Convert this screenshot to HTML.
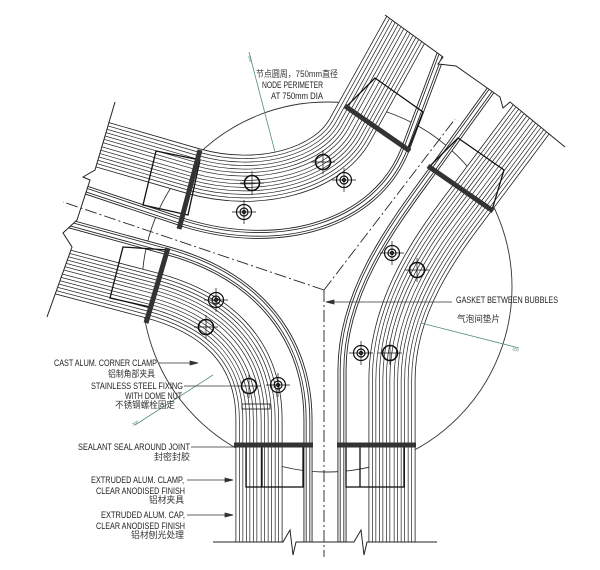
<!DOCTYPE html>
<html><head><meta charset="utf-8">
<style>
html,body{margin:0;padding:0;background:#fff;}
svg{display:block;}
text{font-family:"Liberation Sans","Noto Sans CJK SC",sans-serif;fill:#222;}
.zh{font-family:"Liberation Sans","Noto Sans CJK SC",sans-serif;fill:#333;}
</style></head><body>
<svg width="600" height="570" viewBox="0 0 600 570" xmlns="http://www.w3.org/2000/svg">
<defs>
<path id="dA" d="M55 131 L193 171 C260 190 328 170 350 130 L420 4" fill="none"/>
<path id="eA" d="M50 178 L185 223 C280 252 375 225 405 150 L462 -2" fill="none"/>
<path id="dC" d="M25 262 L150 295 C215 312 259 350 259 420 L259 542" fill="none"/>
<path id="eC" d="M30 213 L165 250 C260 275 308 340 308 420 L308 542" fill="none"/>
<path id="dB" d="M593 37 L473 197 C443 237 392 300 392 380 L392 542" fill="none"/>
<path id="eB" d="M553 4 L433 170 C395 222 342 290 342 370 L342 542" fill="none"/>
<clipPath id="cl">
<polygon points="115,102 95,170 83,177 90,180 77,220 63,233 72,247 47,317 0,570 600,570 600,200 565,147 510,102 503,108 500,97 456,66 438,64 443,57 385,15 385,0 115,0"/>
</clipPath>
</defs>

<circle cx="327" cy="287" r="185" fill="none" stroke="#333" stroke-width="0.9"/>

<g fill="none" stroke-linecap="butt" clip-path="url(#cl)">
<g stroke="#222"><use href="#dA" stroke-width="47"/><use href="#dC" stroke-width="47"/><use href="#dB" stroke-width="47"/></g>
<g stroke="#fff"><use href="#dA" stroke-width="45.4"/><use href="#dC" stroke-width="45.4"/><use href="#dB" stroke-width="45.4"/></g>
<g stroke="#222"><use href="#dA" stroke-width="40"/><use href="#dC" stroke-width="40"/><use href="#dB" stroke-width="40"/></g>
<g stroke="#fff"><use href="#dA" stroke-width="38.6"/><use href="#dC" stroke-width="38.6"/><use href="#dB" stroke-width="38.6"/></g>
<g stroke="#222"><use href="#dA" stroke-width="33"/><use href="#dC" stroke-width="33"/><use href="#dB" stroke-width="33"/></g>
<g stroke="#fff"><use href="#dA" stroke-width="31.6"/><use href="#dC" stroke-width="31.6"/><use href="#dB" stroke-width="31.6"/></g>
<g stroke="#222"><use href="#dA" stroke-width="26"/><use href="#dC" stroke-width="26"/><use href="#dB" stroke-width="26"/></g>
<g stroke="#fff"><use href="#dA" stroke-width="24.6"/><use href="#dC" stroke-width="24.6"/><use href="#dB" stroke-width="24.6"/></g>
<g stroke="#222"><use href="#dA" stroke-width="19"/><use href="#dC" stroke-width="19"/><use href="#dB" stroke-width="19"/></g>
<g stroke="#fff"><use href="#dA" stroke-width="17.6"/><use href="#dC" stroke-width="17.6"/><use href="#dB" stroke-width="17.6"/></g>
<g stroke="#222"><use href="#dA" stroke-width="12"/><use href="#dC" stroke-width="12"/><use href="#dB" stroke-width="12"/></g>
<g stroke="#fff"><use href="#dA" stroke-width="10.6"/><use href="#dC" stroke-width="10.6"/><use href="#dB" stroke-width="10.6"/></g>
<g stroke="#222"><use href="#dA" stroke-width="5"/><use href="#dC" stroke-width="5"/><use href="#dB" stroke-width="5"/></g>
<g stroke="#fff"><use href="#dA" stroke-width="3.6"/><use href="#dC" stroke-width="3.6"/><use href="#dB" stroke-width="3.6"/></g>
<g stroke="#222"><use href="#eA" stroke-width="9"/><use href="#eC" stroke-width="9"/><use href="#eB" stroke-width="9"/></g>
<g stroke="#fff"><use href="#eA" stroke-width="7.2"/><use href="#eC" stroke-width="7.2"/><use href="#eB" stroke-width="7.2"/></g>
<g stroke="#222"><use href="#eA" stroke-width="4.5"/><use href="#eC" stroke-width="4.5"/><use href="#eB" stroke-width="4.5"/></g>
<g stroke="#fff"><use href="#eA" stroke-width="2.8"/><use href="#eC" stroke-width="2.8"/><use href="#eB" stroke-width="2.8"/></g>
</g>

<g fill="none" stroke="#111" stroke-width="1.3">
<polygon points="156,151 200,160 188,215 143,205"/>
<polygon points="123,247 167,250 150,307 110,298"/>
<polygon points="375,78 423,112 408,150 346,107"/>
<polygon points="458,138 504,170 492,210 429,167"/>
<rect x="246" y="445" width="57" height="42"/>
<line x1="262" y1="445" x2="262" y2="487"/>
<rect x="346" y="445" width="58" height="42"/>
<line x1="360" y1="445" x2="360" y2="487"/>
</g>

<g stroke="#333" stroke-width="5" stroke-linecap="butt">
<line x1="200" y1="150" x2="179" y2="229"/>
<line x1="345" y1="106" x2="410" y2="151"/>
<line x1="428" y1="166" x2="493" y2="211"/>
<line x1="168" y1="248" x2="146" y2="323"/>
<line x1="234" y1="445" x2="313" y2="445"/>
<line x1="337" y1="445" x2="416" y2="445"/>
</g>

<g stroke="#222" stroke-width="0.9" fill="none" stroke-dasharray="12 3 2 3">
<line x1="324" y1="290" x2="324" y2="557"/>
<line x1="324" y1="290" x2="63" y2="202"/>
<line x1="324" y1="290" x2="455" y2="119"/>
</g>

<g stroke="#222" stroke-width="1" fill="none">
<polyline points="115,102 95,170 83,177 90,180 77,220 63,233 72,247 47,317"/>
<polyline points="385,15 443,57 438,64 456,66 500,97 503,108 510,102 565,147"/>
<polyline points="213,542 283,542 290,530 293,555 296,542 354,542 361,530 364,555 367,542 437,542"/>
</g>

<g fill="none" stroke="#111">
<g stroke-width="1.6"><circle cx="252" cy="183" r="7.5"/><circle cx="323" cy="162" r="7.5"/><circle cx="206" cy="327" r="7.5"/><circle cx="249" cy="386" r="7.5"/><circle cx="417" cy="270" r="7.5"/><circle cx="390" cy="353" r="7.5"/></g>
<g stroke-width="1.2"><circle cx="244" cy="212" r="7.5"/><circle cx="244" cy="212" r="4"/><circle cx="244" cy="212" r="1.5"/>
<circle cx="344" cy="180" r="7.5"/><circle cx="344" cy="180" r="4"/><circle cx="344" cy="180" r="1.5"/>
<circle cx="392" cy="253" r="7.5"/><circle cx="392" cy="253" r="4"/><circle cx="392" cy="253" r="1.5"/>
<circle cx="216" cy="300" r="7.5"/><circle cx="216" cy="300" r="4"/><circle cx="216" cy="300" r="1.5"/>
<circle cx="278" cy="385" r="7.5"/><circle cx="278" cy="385" r="4"/><circle cx="278" cy="385" r="1.5"/>
<circle cx="361" cy="353" r="7.5"/><circle cx="361" cy="353" r="4"/><circle cx="361" cy="353" r="1.5"/></g>
<g stroke-width="0.7">
<path d="M240 183h24M252 171v24M232 212h24M244 200v24M311 162h24M323 150v24M332 180h24M344 168v24M380 253h24M392 241v24M405 270h24M417 258v24M204 300h24M216 288v24M194 327h24M206 315v24M237 386h24M249 374v24M266 385h24M278 373v24M349 353h24M361 341v24M378 353h24M390 341v24"/>
</g>
<rect x="242" y="404" width="28" height="5" stroke-width="0.8"/>
</g>

<g stroke="#5a8a80" stroke-width="0.8" fill="none">
<line x1="249" y1="52" x2="275" y2="152"/>
<line x1="421" y1="323" x2="519" y2="348"/>
<line x1="135" y1="425" x2="213" y2="375"/>
</g>
<g font-size="4">
<text x="248" y="56" transform="rotate(75 248 56)" style="fill:#5a8a80">300</text>
<text x="512" y="350" transform="rotate(15 512 350)" style="fill:#5a8a80">300</text>
<text x="133" y="426" transform="rotate(-30 133 426)" style="fill:#5a8a80">300</text>
</g>

<g stroke="#333" stroke-width="0.8" fill="#333">
<line x1="326" y1="302" x2="452" y2="302"/><path d="M326 302 l8 -2 v4z"/>
<line x1="159" y1="363" x2="196" y2="363"/><path d="M198 363 l-8 -2 v4z"/>
<line x1="184" y1="386" x2="245" y2="386"/>
<line x1="191" y1="447" x2="237" y2="447"/>
<line x1="187" y1="480" x2="232" y2="480"/><path d="M233 480 l-8 -2 v4z"/>
<line x1="187" y1="515" x2="232" y2="515"/><path d="M233 515 l-8 -2 v4z"/>
</g>

<g font-size="9">
<text class="zh" x="256" y="77" textLength="82" lengthAdjust="spacingAndGlyphs">节点圆周，750mm直径</text>
<text x="262" y="88" textLength="61" lengthAdjust="spacingAndGlyphs">NODE PERIMETER</text>
<text x="271" y="99" textLength="52" lengthAdjust="spacingAndGlyphs">AT 750mm DIA</text>
<text x="456" y="303" textLength="102" lengthAdjust="spacingAndGlyphs">GASKET BETWEEN BUBBLES</text>
<text class="zh" x="457" y="322" textLength="43" lengthAdjust="spacingAndGlyphs">气泡间垫片</text>
<text x="54" y="366" textLength="103" lengthAdjust="spacingAndGlyphs">CAST ALUM. CORNER CLAMP</text>
<text class="zh" x="108" y="377" textLength="47" lengthAdjust="spacingAndGlyphs">铝制角部夹具</text>
<text x="91" y="389" textLength="92" lengthAdjust="spacingAndGlyphs">STAINLESS STEEL FIXING</text>
<text x="125" y="399" textLength="57" lengthAdjust="spacingAndGlyphs">WITH DOME NUT</text>
<text class="zh" x="115" y="408" textLength="60" lengthAdjust="spacingAndGlyphs">不锈钢螺栓固定</text>
<text x="78" y="450" textLength="112" lengthAdjust="spacingAndGlyphs">SEALANT SEAL AROUND JOINT</text>
<text class="zh" x="154" y="460" textLength="36" lengthAdjust="spacingAndGlyphs">封密封胶</text>
<text x="91" y="483" textLength="93" lengthAdjust="spacingAndGlyphs">EXTRUDED ALUM. CLAMP,</text>
<text x="96" y="494" textLength="89" lengthAdjust="spacingAndGlyphs">CLEAR ANODISED FINISH</text>
<text class="zh" x="149" y="503" textLength="35" lengthAdjust="spacingAndGlyphs">铝材夹具</text>
<text x="101" y="518" textLength="84" lengthAdjust="spacingAndGlyphs">EXTRUDED ALUM. CAP,</text>
<text x="96" y="529" textLength="89" lengthAdjust="spacingAndGlyphs">CLEAR ANODISED FINISH</text>
<text class="zh" x="131" y="538" textLength="53" lengthAdjust="spacingAndGlyphs">铝材刨光处理</text>
</g>
</svg>
</body></html>
